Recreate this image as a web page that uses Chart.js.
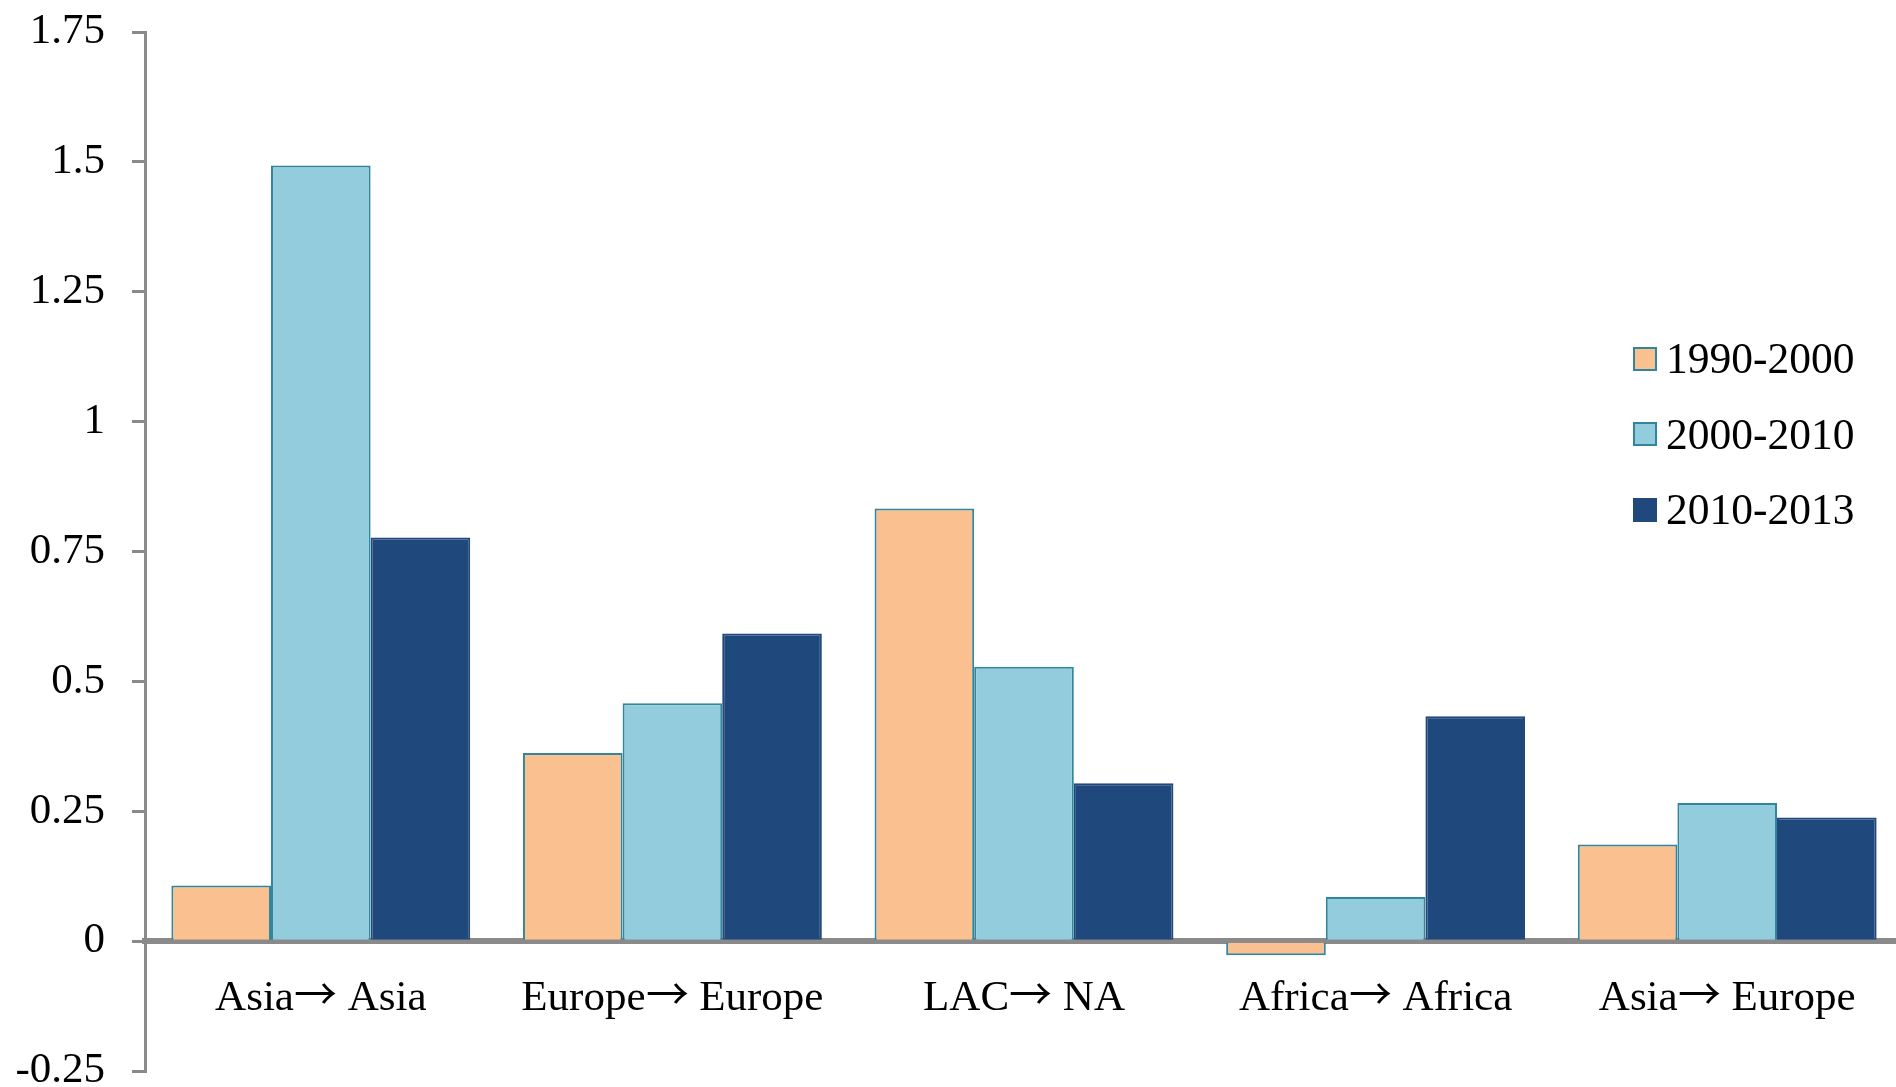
<!DOCTYPE html>
<html>
<head>
<meta charset="utf-8">
<script src="https://cdn.jsdelivr.net/npm/chart.js@4.4.1/dist/chart.umd.min.js"></script>
<style>
  @font-face {
    font-family: 'ArrowGlyph';
    src: local('Noto Sans CJK JP Regular'), local('NotoSansCJKjp-Regular'), local('Noto Sans CJK JP');
    unicode-range: U+2192;
  }
  html, body { margin: 0; padding: 0; background: #fff; overflow: hidden; }
  #wrap { position: relative; width: 1904px; height: 1087px; }
  #legend { position: absolute; left: 1633px; top: 321px; font-family: 'Liberation Serif', 'Times New Roman', serif; font-size: 43.5px; color: #000; }
  .row { position: relative; height: 75.5px; display: flex; align-items: center; }
  .box { width: 20px; height: 20px; border: 2px solid #31859C; box-sizing: content-box; margin-right: 9px; }
  .lbl { line-height: 1; }
</style>
</head>
<body>
<div id="wrap">
  <canvas id="c" width="1904" height="1087"></canvas>
  <div id="legend"></div>
</div>
<script>
const categories = ['Asia\u2192 Asia', 'Europe\u2192 Europe', 'LAC\u2192 NA', 'Africa\u2192 Africa', 'Asia\u2192 Europe'];
const seriesNames = ['1990-2000', '2000-2010', '2010-2013'];
const s1990 = [0.107, 0.362, 0.833, -0.027, 0.186];
const s2000 = [1.493, 0.458, 0.528, 0.085, 0.266];
const s2010 = [0.777, 0.592, 0.304, 0.433, 0.238];
const yTickLabels = ['-0.25', '0', '0.25', '0.5', '0.75', '1', '1.25', '1.5', '1.75'];

const fills = ['#FAC090', '#93CDDD', '#1F497D'];
const borders = ['#31859C', '#31859C', '#23487A'];
const seriesValues = [s1990, s2000, s2010];

const FONT = "'Liberation Serif', 'Times New Roman', serif";
const XFONT = "'ArrowGlyph', 'Liberation Serif', 'Times New Roman', serif";

function draw() {
  const datasets = seriesNames.map((name, i) => ({
    label: name,
    data: seriesValues[i],
    backgroundColor: fills[i],
    borderColor: borders[i],
    borderWidth: 2,
    categoryPercentage: 0.85,
    barPercentage: 1.0
  }));

  new Chart(document.getElementById('c'), {
    type: 'bar',
    data: { labels: categories, datasets },
    options: {
      responsive: false,
      animation: false,
      devicePixelRatio: 1,
      layout: { padding: { top: 32, bottom: 16, left: 0, right: 1 } },
      plugins: { legend: { display: false }, tooltip: { enabled: false } },
      scales: {
        x: {
          position: { y: 0 },
          z: 1,
          afterFit: (s) => { s.paddingLeft = 0; s.paddingRight = 0; },
          grid: { display: false, drawTicks: false, tickLength: 0 },
          border: { display: true, color: '#8a8a8a', width: 6 },
          ticks: { color: '#000', font: { family: XFONT, size: 43 }, padding: 32, maxRotation: 0, autoSkip: false }
        },
        y: {
          min: -0.25,
          max: 1.75,
          afterFit: (s) => { s.width = 145; s.paddingTop = 0; s.paddingBottom = 0; },
          grid: { display: true, drawOnChartArea: false, drawTicks: true, tickLength: 13, color: '#8a8a8a', lineWidth: 3 },
          border: { display: true, color: '#8a8a8a', width: 3 },
          ticks: {
            stepSize: 0.25,
            color: '#000',
            padding: 27,
            font: { family: FONT, size: 43 },
            callback: (v, i) => yTickLabels[i]
          }
        }
      }
    }
  });

  const legend = document.getElementById('legend');
  seriesNames.forEach((name, i) => {
    const row = document.createElement('div');
    row.className = 'row';
    const b = document.createElement('div');
    b.className = 'box';
    b.style.background = fills[i];
    b.style.borderColor = borders[i];
    const t = document.createElement('span');
    t.className = 'lbl';
    t.textContent = name;
    row.appendChild(b); row.appendChild(t);
    legend.appendChild(row);
  });
}

let drawn = false;
function go() { if (!drawn) { drawn = true; draw(); } }
if (document.fonts && document.fonts.load) {
  Promise.all([
    document.fonts.load("43px 'ArrowGlyph'", "\u2192"),
    document.fonts.load("43px 'Liberation Serif'", "Asia")
  ]).then(go, go);
  setTimeout(go, 1500);
} else {
  go();
}
</script>
</body>
</html>
